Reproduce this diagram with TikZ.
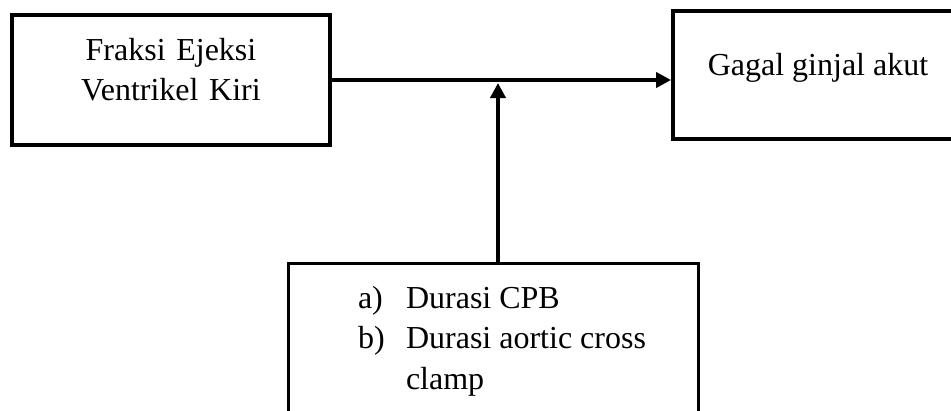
\documentclass[tikz,border=0pt]{standalone}
\usepackage{fontspec}
\setmainfont{Liberation Serif}
\usetikzlibrary{arrows.meta, positioning}

\begin{document}
\begin{tikzpicture}[
    x=1pt, y=-1pt,
    box/.style = {
        rectangle,
        draw=black,
        line width=3.8pt,
        inner sep=0pt,
        font=\fontsize{32}{40.5}\selectfont
    },
    arrow/.style = {line width=3.8pt, -{Triangle[length=15pt, width=15pt]}}
]
    \useasboundingbox (0,0) rectangle (951,410);

    % === BOXES ===
    \node[box, minimum width=318pt, minimum height=130pt,
        text width=300pt, align=center, text height=28pt, text depth=68pt]
        (ejeksi) at (171,80) {Fraksi Ejeksi\\Ventrikel Kiri};

    \node[box, minimum width=290pt, minimum height=128pt,
        text height=20pt, text depth=20pt]
        (gagal) at (818,75) {Gagal ginjal akut};

    \node[box, minimum width=410pt, minimum height=176.5pt,
        text height=25pt, text depth=112.5pt]
        (durasi) at (493.5,351.75) {%
        \begin{tabular}[t]{@{\hspace{17pt}}p{48pt}@{}l@{}}
            a) & Durasi CPB\\
            b) & Durasi aortic cross\\
               & clamp
        \end{tabular}};

    % === ARROWS ===
    \coordinate (cabang) at (498,80);
    \draw[arrow] (ejeksi.east) -- (ejeksi.east -| gagal.west);
    \draw[arrow, shorten >=3pt] (cabang |- durasi.north) -- (cabang);

\end{tikzpicture}
\end{document}
